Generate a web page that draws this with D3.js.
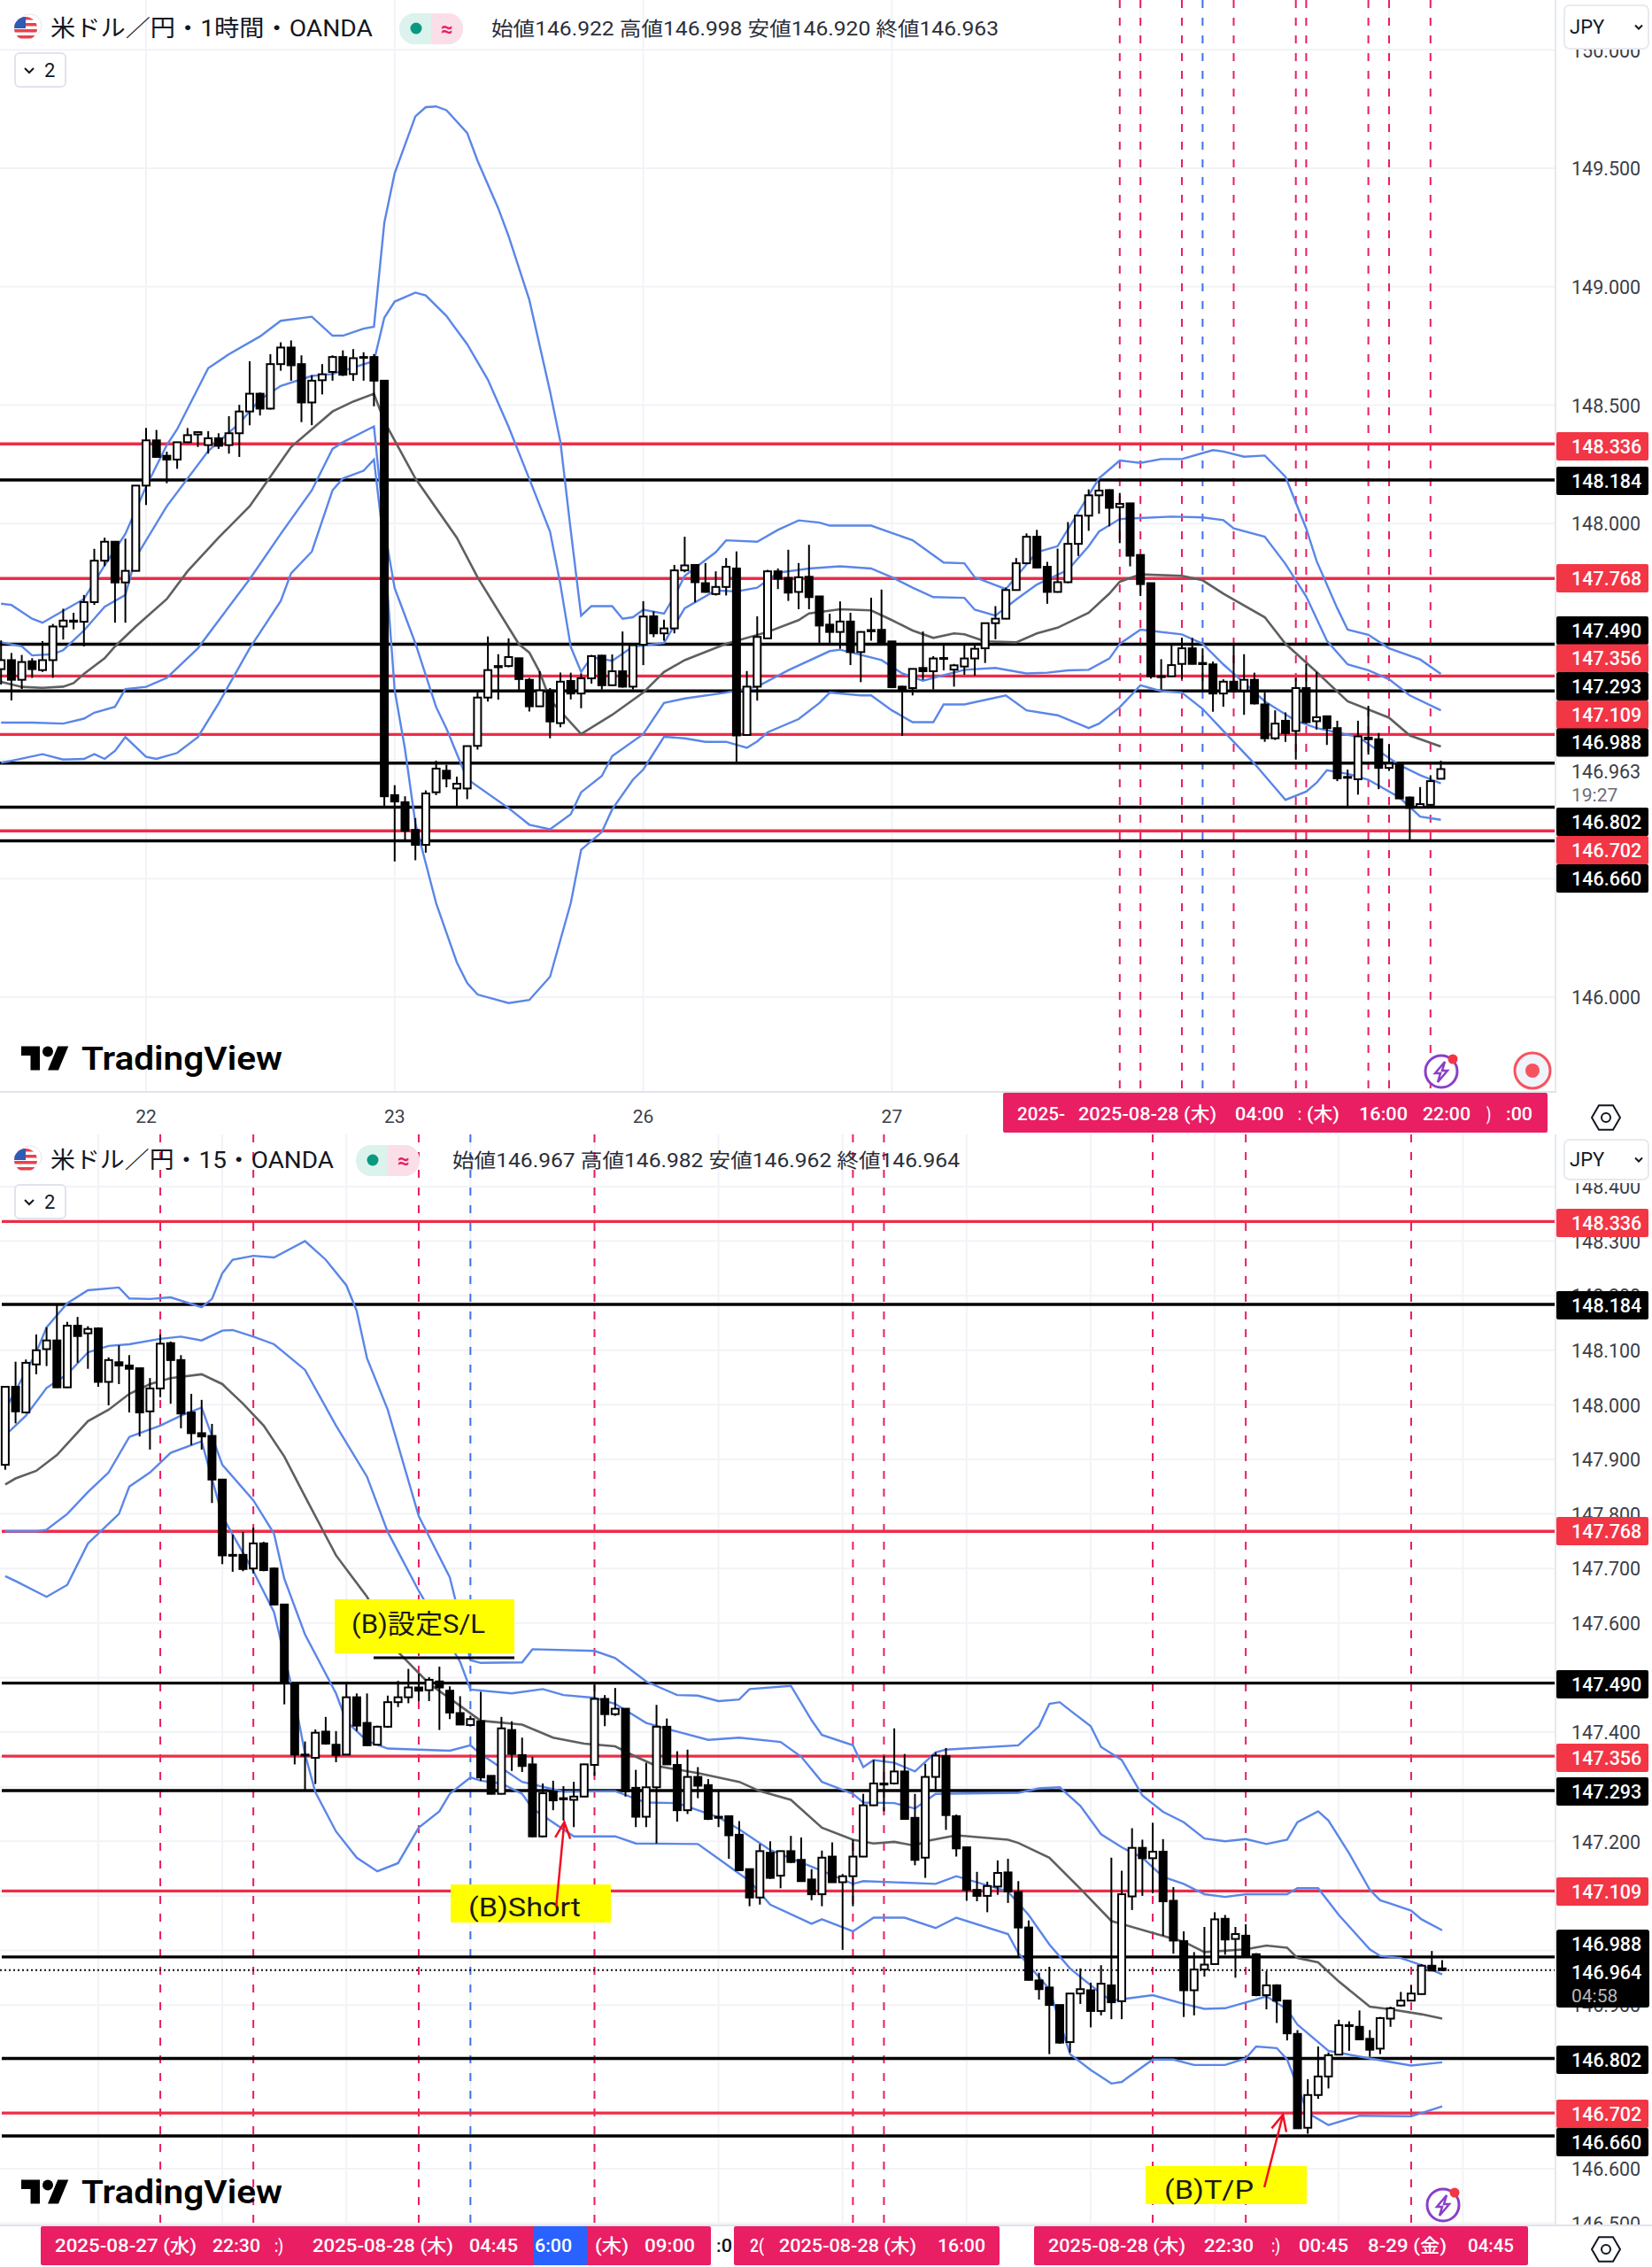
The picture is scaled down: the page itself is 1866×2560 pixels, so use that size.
<!DOCTYPE html>
<html><head><meta charset="utf-8">
<script src="https://cdn.jsdelivr.net/npm/d3@7/dist/d3.min.js"></script>
<style>html,body{margin:0;padding:0;background:#fff}svg{display:block}text{font-family:Roboto,"Noto Sans CJK JP",sans-serif}</style>
</head><body><svg id="c" width="1866" height="2560"></svg>
<script>
// ---------- shared price levels ----------
const levelValues=[148.336,148.184,147.768,147.490,147.356,147.293,147.109,146.988,146.802,146.702,146.660];
const levelKinds=["r","b","r","b","r","b","r","b","b","r","b"];
// ---------- 1 hour chart ----------
const hourOpen=[147.385,147.423,147.340,147.418,147.381,147.423,147.565,147.590,147.585,147.668,147.843,147.923,147.751,147.800,148.160,148.351,148.286,148.270,148.343,148.376,148.331,148.360,148.331,148.381,148.473,148.548,148.485,148.673,148.743,148.673,148.511,148.605,148.640,148.703,148.631,148.700,148.703,148.603,146.853,146.823,146.706,146.643,146.865,146.956,146.881,146.881,147.061,147.265,147.398,147.398,147.431,147.340,147.228,147.295,147.157,147.335,147.282,147.346,147.442,147.317,147.376,147.311,147.488,147.608,147.536,147.557,147.802,147.825,147.748,147.702,147.732,147.810,147.107,147.311,147.515,147.798,147.770,147.711,147.775,147.692,147.573,147.542,147.586,147.457,147.550,147.551,147.502,147.311,147.305,147.390,147.376,147.432,147.383,147.396,147.430,147.473,147.579,147.598,147.719,147.832,147.944,147.817,147.711,147.752,147.914,148.033,148.119,148.141,148.069,148.085,147.867,147.748,147.355,147.355,147.407,147.473,147.411,147.405,147.282,147.332,147.295,147.340,147.236,147.093,147.167,147.124,147.305,147.165,147.186,147.136,146.930,146.920,147.096,147.089,146.968,146.986,146.843,146.803,146.812,146.922];
const hourHigh=[147.506,147.453,147.445,147.431,147.503,147.576,147.640,147.623,147.698,147.893,147.940,147.926,147.936,148.160,148.403,148.395,148.303,148.343,148.403,148.386,148.390,148.381,148.453,148.501,148.685,148.553,148.715,148.765,148.773,148.710,148.626,148.673,148.710,148.731,148.736,148.723,148.715,148.603,146.895,146.848,146.756,146.873,146.998,146.981,146.931,147.060,147.286,147.523,147.448,147.515,147.431,147.348,147.376,147.305,147.370,147.370,147.367,147.445,147.445,147.447,147.544,147.486,147.672,147.629,147.594,147.825,147.944,147.825,147.833,147.798,147.854,147.882,147.377,147.608,147.804,147.810,147.889,147.833,147.910,147.694,147.619,147.671,147.623,147.545,147.686,147.721,147.502,147.315,147.386,147.544,147.440,147.486,147.407,147.486,147.490,147.579,147.651,147.729,147.854,147.958,147.973,147.838,147.894,148.006,148.035,148.144,148.181,148.144,148.129,148.085,147.867,147.748,147.427,147.486,147.517,147.517,147.473,147.417,147.342,147.492,147.448,147.370,147.286,147.211,147.202,147.348,147.407,147.373,147.186,147.167,146.961,147.167,147.230,147.115,147.068,146.986,146.847,146.887,146.937,146.998];
const hourLow=[147.320,147.253,147.301,147.348,147.373,147.348,147.510,147.553,147.481,147.656,147.820,147.581,147.581,147.798,148.078,148.278,148.170,148.231,148.340,148.323,148.295,148.315,148.295,148.281,148.415,148.456,148.481,148.645,148.603,148.428,148.415,148.545,148.603,148.623,148.603,148.603,148.495,146.806,146.573,146.665,146.578,146.610,146.853,146.886,146.806,146.836,147.045,147.248,147.256,147.393,147.298,147.206,147.226,147.093,147.140,147.257,147.220,147.324,147.299,147.315,147.307,147.299,147.402,147.520,147.505,147.536,147.794,147.667,147.708,147.696,147.696,146.990,147.105,147.252,147.512,147.723,147.673,147.638,147.638,147.492,147.492,147.471,147.402,147.330,147.505,147.490,147.305,147.103,147.274,147.340,147.299,147.380,147.311,147.361,147.357,147.411,147.511,147.596,147.717,147.829,147.810,147.661,147.708,147.748,147.863,147.969,148.041,147.988,147.917,147.819,147.694,147.345,147.299,147.352,147.342,147.405,147.292,147.205,147.226,147.286,147.192,147.236,147.078,147.086,147.078,147.003,147.155,147.130,147.065,146.912,146.799,146.855,147.024,146.878,146.955,146.837,146.662,146.800,146.803,146.920];
const hourClose=[147.423,147.340,147.415,147.385,147.423,147.565,147.590,147.585,147.668,147.843,147.923,147.751,147.800,148.160,148.351,148.281,148.270,148.343,148.373,148.386,148.360,148.328,148.381,148.473,148.548,148.485,148.673,148.743,148.668,148.511,148.603,148.630,148.703,148.628,148.698,148.703,148.603,146.848,146.826,146.703,146.643,146.860,146.965,146.923,146.901,147.060,147.265,147.381,147.393,147.436,147.343,147.228,147.295,147.164,147.332,147.282,147.346,147.440,147.317,147.376,147.311,147.486,147.607,147.536,147.557,147.802,147.823,147.752,147.711,147.732,147.817,147.105,147.311,147.521,147.798,147.767,147.708,147.773,147.689,147.569,147.542,147.586,147.457,147.542,147.545,147.492,147.309,147.299,147.386,147.376,147.430,147.428,147.401,147.430,147.471,147.579,147.598,147.719,147.832,147.944,147.814,147.711,147.752,147.914,148.033,148.119,148.139,148.066,148.083,147.864,147.744,147.355,147.352,147.402,147.473,147.407,147.406,147.282,147.332,147.292,147.340,147.240,147.093,147.155,147.115,147.305,147.161,147.182,147.136,146.924,146.926,147.101,147.089,146.968,146.986,146.839,146.799,146.815,146.912,146.963];
// band points are [bar number, price]
const hourUpper2=[[0,147.661],[1,147.656],[3,147.598],[4,147.581],[6,147.631],[8,147.681],[10,147.823],[12,147.956],[14,148.156],[16,148.331],[17,148.398],[20,148.656],[22,148.715],[25,148.79],[27,148.856],[30,148.873],[32,148.793],[33,148.793],[35,148.823],[36,148.831],[37,149.27],[38,149.479],[40,149.719],[41,149.758],[42,149.761],[43,149.745],[45,149.649],[46,149.532],[48,149.331],[49,149.213],[51,148.944],[53,148.558],[54,148.345],[55,147.97],[56,147.611],[57,147.651],[59,147.651],[60,147.598],[61,147.604],[62,147.636],[64,147.619],[65,147.692],[66,147.779],[69,147.879],[70,147.929],[73,147.923],[75,147.973],[77,148.013],[79,148.004],[80,147.991],[84,147.991],[86,147.96],[88,147.929],[91,147.835],[93,147.832],[94,147.773],[97,147.723],[100,147.879],[102,147.904],[106,148.191],[108,148.266],[110,148.256],[112,148.272],[114,148.272],[117,148.31],[118,148.304],[120,148.282],[122,148.287],[124,148.197],[126,147.979],[127,147.842],[129,147.642],[130,147.552],[132,147.53],[134,147.473],[137,147.426],[139,147.365]];
const hourUpper1=[[0,147.498],[2,147.481],[3,147.443],[5,147.448],[6,147.465],[8,147.548],[10,147.648],[12,147.698],[13,147.856],[16,148.073],[20,148.306],[23,148.423],[25,148.523],[27,148.581],[30,148.623],[32,148.631],[36,148.686],[37,148.869],[38,148.937],[40,148.975],[41,148.963],[43,148.876],[45,148.757],[47,148.607],[49,148.408],[51,148.188],[53,147.966],[54,147.742],[55,147.479],[56,147.373],[57,147.436],[59,147.42],[61,147.48],[64,147.495],[66,147.642],[69,147.717],[71,147.713],[73,147.729],[75,147.792],[78,147.81],[81,147.819],[84,147.81],[86,147.773],[88,147.729],[90,147.689],[93,147.686],[94,147.636],[96,147.611],[98,147.679],[100,147.742],[103,147.804],[105,147.904],[106,147.966],[108,148.019],[110,148.023],[113,148.029],[116,148.026],[118,148.014],[119,147.979],[122,147.944],[124,147.829],[126,147.692],[128,147.505],[130,147.405],[132,147.38],[134,147.342],[136,147.274],[139,147.211]];
const hourMiddle=[[0,147.331],[2,147.31],[4,147.306],[6,147.311],[7,147.326],[8,147.365],[10,147.431],[11,147.481],[13,147.565],[16,147.681],[18,147.798],[21,147.94],[24,148.073],[26,148.198],[28,148.323],[30,148.398],[32,148.473],[34,148.515],[36,148.548],[37,148.431],[40,148.19],[44,147.94],[46,147.773],[50,147.49],[51,147.455],[52,147.373],[53,147.255],[56,147.111],[59,147.192],[62,147.286],[64,147.373],[66,147.423],[70,147.492],[74,147.542],[77,147.592],[78,147.62],[81,147.638],[84,147.633],[86,147.592],[88,147.548],[90,147.517],[92,147.536],[93,147.532],[95,147.502],[98,147.498],[100,147.536],[102,147.56],[105,147.623],[107,147.704],[108,147.754],[110,147.785],[114,147.779],[116,147.76],[118,147.704],[122,147.604],[124,147.492],[127,147.373],[130,147.249],[134,147.18],[136,147.105],[139,147.058]];
const hourLower1=[[0,147.159],[3,147.159],[6,147.155],[8,147.176],[9,147.201],[11,147.226],[12,147.301],[14,147.31],[16,147.348],[19,147.473],[21,147.59],[24,147.765],[27,147.956],[30,148.14],[32,148.315],[33,148.343],[36,148.41],[37,147.978],[38,147.727],[40,147.494],[42,147.225],[43,147.134],[45,146.921],[49,146.798],[51,146.728],[53,146.709],[55,146.772],[56,146.865],[58,146.934],[59,147.018],[62,147.111],[64,147.242],[66,147.261],[70,147.286],[73,147.311],[76,147.38],[80,147.461],[81,147.467],[85,147.423],[87,147.367],[89,147.336],[90,147.348],[93,147.382],[96,147.39],[99,147.367],[101,147.37],[103,147.38],[105,147.382],[107,147.43],[108,147.492],[110,147.552],[114,147.532],[116,147.492],[118,147.405],[122,147.249],[125,147.167],[127,147.136],[131,147.099],[135,146.98],[137,146.937],[139,146.903]];
const hourLower2=[[0,146.99],[1,146.998],[4,147.026],[6,147.003],[8,147.006],[9,147.026],[10,147.006],[11,147.04],[12,147.098],[14,147.015],[15,147.006],[17,147.031],[19,147.098],[21,147.24],[24,147.473],[27,147.673],[28,147.79],[30,147.881],[32,148.14],[33,148.19],[35,148.223],[36,148.27],[37,147.895],[38,147.296],[39,147.046],[40,146.734],[42,146.397],[44,146.147],[45,146.06],[46,146.011],[49,145.975],[51,145.988],[53,146.086],[55,146.397],[56,146.622],[58,146.697],[59,146.793],[61,146.918],[62,146.961],[64,147.099],[66,147.093],[68,147.078],[70,147.078],[72,147.053],[73,147.08],[74,147.118],[77,147.174],[79,147.242],[80,147.286],[83,147.274],[84,147.274],[86,147.211],[88,147.161],[90,147.161],[91,147.236],[93,147.236],[97,147.274],[99,147.211],[102,147.19],[105,147.136],[106,147.155],[108,147.224],[110,147.317],[112,147.292],[114,147.286],[116,147.217],[118,147.124],[121,146.986],[124,146.833],[126,146.868],[127,146.905],[128,146.958],[130,146.943],[132,146.918],[135,146.843],[137,146.762],[139,146.749]];
const hourMarkerBars=[108,110,114,116,119,125,126,132,134,138];
const hourBlueMarkers=[116];
const hourTickValues=[146,146.5,147,147.5,148,148.5,149,149.5,150];
const hourTickLabels=[146,148,148.5,149,149.5,150];
const hourDayBars=[14,38,62,86];
const hourDayLabels=["22","23","26","27"];
// ---------- 15 minute chart ----------
const minOpen=[147.890,148.033,147.986,148.074,148.102,148.118,148.032,148.145,148.131,148.140,148.042,148.078,148.072,148.067,147.988,148.030,148.113,148.082,147.986,147.948,147.943,147.863,147.725,147.725,147.700,147.746,147.700,147.634,147.489,147.359,147.353,147.401,147.377,147.359,147.464,147.417,147.377,147.410,147.455,147.464,147.482,147.477,147.493,147.476,147.435,147.413,147.420,147.320,147.287,147.404,147.358,147.341,147.209,147.291,147.279,147.276,147.282,147.340,147.461,147.433,147.443,147.298,147.245,147.299,147.410,147.340,147.257,147.318,147.303,147.245,147.246,147.212,147.149,147.097,147.179,147.137,147.182,147.166,147.130,147.103,147.172,147.125,147.136,147.172,147.266,147.306,147.306,147.328,147.243,147.170,147.318,147.356,147.246,147.189,147.111,147.100,147.117,147.143,147.107,147.042,146.945,146.932,146.900,146.832,146.921,146.927,146.889,146.936,146.907,147.099,147.188,147.169,147.181,147.091,147.017,146.927,146.965,146.975,147.058,147.021,147.027,146.993,146.918,146.936,146.908,146.847,146.675,146.735,146.769,146.809,146.863,146.860,146.838,146.820,146.875,146.899,146.908,146.920,146.972,146.967];
const minHigh=[148.033,148.079,148.083,148.129,148.142,148.183,148.152,148.161,148.144,148.142,148.087,148.109,148.091,148.067,148.049,148.129,148.116,148.091,148.020,148.009,147.965,147.863,147.762,147.767,147.775,147.749,147.702,147.634,147.491,147.383,147.405,147.428,147.402,147.489,147.471,147.471,147.412,147.467,147.494,147.516,147.507,147.501,147.520,147.484,147.466,147.430,147.474,147.320,147.428,147.420,147.390,147.355,147.306,147.311,147.301,147.309,147.342,147.487,147.468,147.481,147.443,147.331,147.344,147.450,147.425,147.365,147.368,147.336,147.314,147.292,147.246,147.237,147.149,147.195,147.200,147.183,147.210,147.207,147.149,147.183,147.198,147.140,147.203,147.287,147.349,147.357,147.407,147.360,147.287,147.342,147.363,147.371,147.249,147.189,147.144,147.126,147.165,147.168,147.127,147.055,146.959,146.970,146.900,146.921,146.967,146.941,146.973,147.170,147.146,147.224,147.203,147.234,147.204,147.116,147.035,146.997,147.043,147.070,147.065,147.043,147.048,146.995,146.962,146.938,146.909,146.854,146.764,146.824,146.813,146.873,146.870,146.890,146.854,146.878,146.897,146.924,146.936,146.975,146.999,146.982];
const minLow=[147.881,147.966,147.984,148.056,148.071,148.031,148.031,148.077,148.066,148.033,147.999,148.038,147.986,147.942,147.918,148.014,148.002,147.957,147.926,147.918,147.820,147.708,147.694,147.695,147.691,147.695,147.632,147.451,147.341,147.294,147.305,147.377,147.345,147.358,147.402,147.375,147.376,147.408,147.446,147.453,147.457,147.457,147.404,147.424,147.413,147.412,147.311,147.286,147.286,147.329,147.327,147.207,147.207,147.257,147.238,147.226,147.281,147.320,147.411,147.430,147.282,147.226,147.226,147.196,147.340,147.236,147.250,147.279,147.239,147.226,147.168,147.146,147.081,147.084,147.131,147.114,147.160,147.126,147.092,147.081,147.124,147.001,147.081,147.171,147.265,147.255,147.304,147.240,147.156,147.133,147.292,147.221,147.172,147.091,147.090,147.070,147.102,147.087,146.990,146.945,146.910,146.810,146.829,146.813,146.902,146.859,146.881,146.874,146.874,147.074,147.100,147.105,147.027,146.994,146.878,146.881,146.952,146.974,146.992,146.950,146.988,146.916,146.892,146.867,146.835,146.673,146.664,146.728,146.747,146.808,146.816,146.836,146.805,146.810,146.860,146.897,146.907,146.919,146.962,146.962];
const minClose=[148.033,147.988,148.077,148.100,148.118,148.032,148.145,148.126,148.139,148.042,148.082,148.072,148.066,147.986,148.030,148.112,148.082,147.984,147.948,147.942,147.863,147.724,147.724,147.699,147.746,147.697,147.634,147.491,147.359,147.357,147.399,147.379,147.358,147.464,147.412,147.376,147.410,147.455,147.464,147.482,147.476,147.496,147.482,147.436,147.414,147.424,147.317,147.287,147.407,147.360,147.338,147.209,147.288,147.275,147.277,147.282,147.341,147.461,147.433,147.443,147.292,147.245,147.299,147.410,147.341,147.257,147.318,147.302,147.241,147.243,147.211,147.147,147.097,147.182,147.133,147.182,147.162,147.127,147.103,147.170,147.125,147.136,147.172,147.266,147.306,147.304,147.328,147.241,147.166,147.318,147.357,147.248,147.187,147.111,147.100,147.118,147.142,147.108,147.042,146.946,146.929,146.900,146.831,146.921,146.929,146.889,146.939,146.905,147.103,147.188,147.169,147.181,147.090,147.018,146.927,146.965,146.974,147.057,147.020,147.030,146.989,146.918,146.936,146.908,146.848,146.674,146.735,146.769,146.808,146.863,146.862,146.837,146.818,146.876,146.894,146.908,146.921,146.972,146.963,146.964];
const minUpper2=[[0,147.991],[3,148.096],[4,148.142],[6,148.186],[8,148.21],[11,148.215],[12,148.195],[14,148.194],[16,148.197],[19,148.179],[20,148.194],[21,148.241],[22,148.266],[24,148.273],[26,148.27],[29,148.3],[31,148.266],[33,148.219],[34,148.172],[35,148.085],[37,147.991],[40,147.796],[43,147.684],[45,147.532],[46,147.527],[50,147.528],[51,147.552],[57,147.549],[59,147.536],[62,147.493],[65,147.468],[67,147.467],[69,147.457],[71,147.46],[72,147.479],[76,147.485],[78,147.422],[79,147.395],[82,147.376],[83,147.336],[84,147.349],[86,147.344],[88,147.328],[90,147.363],[91,147.368],[98,147.376],[100,147.411],[101,147.452],[102,147.455],[103,147.44],[105,147.411],[106,147.373],[108,147.349],[110,147.284],[112,147.254],[114,147.235],[116,147.205],[118,147.2],[120,147.204],[122,147.195],[124,147.203],[125,147.235],[127,147.255],[128,147.238],[130,147.178],[132,147.111],[133,147.092],[134,147.086],[136,147.073],[137,147.057],[139,147.037]];
const minUpper1=[[0,147.944],[2,147.98],[4,148.031],[6,148.056],[8,148.096],[10,148.108],[12,148.111],[15,148.121],[17,148.125],[19,148.118],[21,148.136],[22,148.137],[24,148.125],[26,148.111],[29,148.064],[32,147.962],[35,147.868],[37,147.767],[40,147.659],[44,147.529],[45,147.478],[49,147.471],[52,147.479],[54,147.468],[57,147.463],[59,147.452],[62,147.417],[65,147.401],[68,147.386],[71,147.39],[75,147.382],[77,147.355],[79,147.309],[82,147.287],[83,147.271],[86,147.27],[88,147.26],[90,147.287],[98,147.289],[100,147.297],[102,147.299],[104,147.265],[106,147.213],[108,147.189],[110,147.17],[112,147.135],[114,147.122],[116,147.103],[118,147.098],[120,147.103],[124,147.103],[125,147.114],[127,147.114],[129,147.065],[132,147.002],[133,146.99],[135,146.986],[137,146.973],[139,146.956]];
const minMiddle=[[0,147.854],[1,147.865],[3,147.879],[5,147.908],[8,147.97],[10,147.991],[12,148.02],[14,148.038],[16,148.049],[19,148.056],[21,148.038],[23,148.002],[25,147.962],[27,147.905],[29,147.832],[31,147.76],[32,147.724],[35,147.648],[38,147.547],[41,147.489],[46,147.421],[50,147.414],[53,147.39],[56,147.379],[59,147.374],[61,147.355],[63,147.338],[67,147.325],[71,147.309],[73,147.292],[76,147.276],[79,147.225],[82,147.203],[84,147.196],[86,147.199],[88,147.192],[89,147.2],[92,147.211],[97,147.203],[98,147.197],[101,147.17],[104,147.113],[107,147.054],[111,147.032],[114,147.016],[116,146.997],[120,147.002],[122,147.009],[124,147.005],[125,146.986],[127,146.978],[129,146.943],[132,146.897],[134,146.892],[137,146.883],[139,146.875]];
const minLower1=[[0,147.768],[3,147.768],[4,147.771],[6,147.8],[8,147.84],[10,147.876],[12,147.941],[13,147.948],[15,147.962],[17,147.98],[19,147.995],[21,147.89],[24,147.825],[26,147.764],[27,147.681],[29,147.579],[32,147.471],[33,147.42],[35,147.384],[37,147.37],[43,147.366],[45,147.376],[46,147.36],[50,147.309],[54,147.291],[59,147.292],[62,147.271],[65,147.27],[67,147.257],[69,147.244],[71,147.222],[74,147.184],[79,147.146],[82,147.122],[83,147.127],[90,147.122],[92,147.136],[97,147.108],[99,147.065],[101,147.011],[103,146.967],[106,146.921],[107,146.908],[111,146.918],[114,146.902],[116,146.893],[118,146.894],[121,146.91],[122,146.916],[124,146.892],[125,146.864],[128,146.816],[132,146.802],[136,146.789],[139,146.795]];
const minLower2=[[0,147.686],[1,147.677],[4,147.648],[6,147.67],[8,147.746],[11,147.8],[12,147.85],[14,147.876],[16,147.912],[19,147.933],[21,147.796],[24,147.695],[26,147.62],[28,147.46],[29,147.36],[30,147.29],[32,147.218],[34,147.17],[36,147.145],[38,147.16],[40,147.225],[42,147.255],[43,147.287],[45,147.317],[46,147.311],[48,147.306],[50,147.287],[51,147.26],[55,147.209],[59,147.209],[61,147.196],[67,147.195],[69,147.168],[72,147.127],[74,147.084],[78,147.049],[79,147.057],[82,147.035],[84,147.06],[87,147.06],[90,147.041],[92,147.06],[97,147.03],[98,146.995],[101,146.929],[103,146.81],[105,146.781],[107,146.756],[108,146.759],[111,146.8],[113,146.8],[115,146.79],[118,146.79],[120,146.802],[121,146.824],[123,146.821],[124,146.8],[126,146.702],[128,146.68],[131,146.697],[136,146.696],[139,146.714]];
const minMarkerBars=[15,24,40,45,57,82,85,111,120,136];
const minBlueMarkers=[45];
const minTickValues=[146.5,146.6,146.7,146.8,146.9,147,147.1,147.2,147.3,147.4,147.5,147.6,147.7,147.8,147.9,148,148.1,148.2,148.3,148.4];
const minTickLabels=[146.5,146.6,146.9,147.2,147.4,147.6,147.7,147.8,147.9,148,148.1,148.2,148.3,148.4];

const svg=d3.select("#c");
const defs=svg.append("defs");
const RED="#ee2c48",PINK="#e91e63",BLUE="#2962ff",BAND="#5b86e8",MIDC="#5f5f5f";
const GRID="#f1f3f7",TXT="#3b3e48";

function fitText(g,x,y,str,width,opt={}){
  const t=g.append("text").attr("x",x).attr("y",y).attr("dominant-baseline","central").text(str)
    .attr("fill",opt.fill||"#131722").attr("font-size",opt.size||21).attr("font-weight",opt.weight||400);
  if(width){t.attr("textLength",width).attr("lengthAdjust","spacingAndGlyphs");}
  if(opt.anchor)t.attr("text-anchor",opt.anchor);
  return t;
}

function panel(cfg){
  const g=svg.append("g");
  const id=cfg.id;
  defs.append("clipPath").attr("id",id).append("rect").attr("x",0).attr("y",cfg.top).attr("width",cfg.axisX).attr("height",cfg.bottom-cfg.top);
  const x=d3.scaleLinear().domain([0,139]).range(cfg.xRange);
  const y=d3.scaleLinear().domain(cfg.yDomain).range(cfg.yRange);
  const plot=g.append("g").attr("clip-path",`url(#${id})`);
  // grid
  plot.selectAll(".hg").data(cfg.ticks).join("line").attr("x1",0).attr("x2",cfg.axisX)
    .attr("y1",d=>y(d)).attr("y2",d=>y(d)).attr("stroke",GRID).attr("stroke-width",2);
  plot.selectAll(".vg").data(cfg.gridBars).join("line").attr("y1",cfg.top).attr("y2",cfg.bottom)
    .attr("x1",d=>x(d)).attr("x2",d=>x(d)).attr("stroke",GRID).attr("stroke-width",2);
  // markers
  plot.selectAll(".mk").data(cfg.markers).join("line").attr("y1",cfg.top).attr("y2",cfg.bottom)
    .attr("x1",d=>x(d)).attr("x2",d=>x(d))
    .attr("stroke",d=>cfg.blue.includes(d)?"#3f72e8":PINK).attr("stroke-width",2).attr("stroke-dasharray","9 11");
  // levels
  plot.selectAll(".lv").data(levelValues.map((v,i)=>({v,k:levelKinds[i]})))
    .join("line").attr("x1",cfg.lineX).attr("x2",cfg.axisX).attr("y1",d=>y(d.v)).attr("y2",d=>y(d.v))
    .attr("stroke",d=>d.k==="r"?RED:"#000").attr("stroke-width",3.4);
  if(cfg.lastLine!=null){
    plot.append("line").attr("x1",0).attr("x2",cfg.axisX).attr("y1",y(cfg.lastLine)).attr("y2",y(cfg.lastLine))
      .attr("stroke","#111").attr("stroke-width",2).attr("stroke-dasharray","2 3");
  }
  // bands
  const line=d3.line().x(d=>x(d[0])).y(d=>y(d[1]));
  cfg.bands.forEach(b=>plot.append("path").attr("d",line(b)).attr("fill","none").attr("stroke",BAND).attr("stroke-width",2.4));
  plot.append("path").attr("d",line(cfg.middle)).attr("fill","none").attr("stroke",MIDC).attr("stroke-width",2.6);
  // candles
  const idx=d3.range(cfg.open.length);
  plot.selectAll(".wk").data(idx).join("line").attr("x1",i=>x(i)).attr("x2",i=>x(i))
    .attr("y1",i=>y(cfg.high[i])).attr("y2",i=>y(cfg.low[i])).attr("stroke","#000").attr("stroke-width",2);
  plot.selectAll(".bd").data(idx).join("rect")
    .attr("x",i=>x(i)-4).attr("width",8)
    .attr("y",i=>y(Math.max(cfg.open[i],cfg.close[i])))
    .attr("height",i=>Math.max(1,Math.abs(y(cfg.open[i])-y(cfg.close[i]))))
    .attr("fill",i=>cfg.close[i]>=cfg.open[i]?"#fff":"#000").attr("stroke","#000").attr("stroke-width",2);
  // axis column
  g.append("line").attr("x1",cfg.axisX).attr("x2",cfg.axisX).attr("y1",cfg.top).attr("y2",cfg.bottom).attr("stroke","#e6e8ee").attr("stroke-width",2);
  const ax=g.append("g").attr("transform",`translate(${cfg.tickX},0)`)
    .call(d3.axisRight(y).tickValues(cfg.tickLabels).tickFormat(d3.format(".3f")).tickSize(0).tickPadding(0));
  ax.select(".domain").remove();
  ax.selectAll("text").attr("fill",TXT).attr("font-size",21.5).attr("font-family",'Roboto,"Noto Sans CJK JP",sans-serif').attr("dy","0.36em");
  // cover axis text above and below the chart
  g.append("rect").attr("x",cfg.axisX+1).attr("y",cfg.bottom).attr("width",1866-cfg.axisX).attr("height",48).attr("fill","#fff");
  g.append("rect").attr("x",cfg.axisX+1).attr("y",cfg.top-50).attr("width",1866-cfg.axisX).attr("height",cfg.jpyBottom-cfg.top+50).attr("fill","#fff");
  g.append("line").attr("x1",0).attr("x2",1866).attr("y1",cfg.bottom+1).attr("y2",cfg.bottom+1).attr("stroke","#e0e3eb").attr("stroke-width",2);
  // labels
  cfg.labels.forEach(l=>{
    const col=levelKinds[levelValues.indexOf(l.v)]==="r"?"#f23645":"#000";
    g.append("rect").attr("x",cfg.axisX+1).attr("y",l.y-16).attr("width",104).attr("height",32).attr("rx",2).attr("fill",col);
    g.append("text").attr("x",cfg.tickX).attr("y",l.y).attr("dy","0.36em").attr("fill","#fff").attr("font-size",21.5).attr("font-weight",500).text(d3.format(".3f")(l.v));
  });
  return {g,plot,x,y};
}

const topPanel=panel({id:"cp1",top:0,bottom:1232,axisX:1757,lineX:0,tickX:1775,jpyBottom:56,xRange:[1.2,1627.5],yDomain:[146,149.5],yRange:[1126,190],
  ticks:hourTickValues,tickLabels:hourTickLabels,gridBars:[14,38,62,86,110,134],markers:hourMarkerBars,blue:hourBlueMarkers,
  open:hourOpen,high:hourHigh,low:hourLow,close:hourClose,bands:[hourUpper2,hourUpper1,hourLower1,hourLower2],middle:hourMiddle,
  labels:[{v:148.336,y:504},{v:148.184,y:543},{v:147.768,y:653},{v:147.49,y:712},{v:147.356,y:743.5},{v:147.293,y:775},{v:147.109,y:807},{v:146.988,y:838.5},{v:146.802,y:928},{v:146.702,y:960},{v:146.66,y:992}]});

const botPanel=panel({id:"cp2",top:1281,bottom:2512,axisX:1757,lineX:2,tickX:1775,jpyBottom:1336,xRange:[5.9,1629],yDomain:[146.66,148.184],yRange:[2412,1473],lastLine:146.964,
  ticks:minTickValues,tickLabels:minTickLabels,gridBars:[9,21,33,45,57,69,81,93,105,117,129,141],markers:minMarkerBars,blue:minBlueMarkers,
  open:minOpen,high:minHigh,low:minLow,close:minClose,bands:[minUpper2,minUpper1,minLower1,minLower2],middle:minMiddle,
  labels:[{v:148.336,y:1381},{v:148.184,y:1474},{v:147.768,y:1729},{v:147.49,y:1902},{v:147.356,y:1985},{v:147.293,y:2023},{v:147.109,y:2136},{v:146.802,y:2326},{v:146.702,y:2387},{v:146.66,y:2419}]});

// price countdown readouts
const g0=svg.append("g");
g0.append("text").attr("x",1775).attr("y",871).attr("dy","0.36em").attr("fill",TXT).attr("font-size",21.5).text("146.963");
g0.append("text").attr("x",1775).attr("y",897).attr("dy","0.36em").attr("fill","#6a6d78").attr("font-size",21).text("19:27");
g0.append("rect").attr("x",1758).attr("y",2179).attr("width",105).attr("height",88).attr("rx",3).attr("fill","#000");
g0.append("text").attr("x",1775).attr("y",2195).attr("dy","0.36em").attr("fill","#fff").attr("font-size",21.5).attr("font-weight",500).text("146.988");
g0.append("text").attr("x",1775).attr("y",2227).attr("dy","0.36em").attr("fill","#fff").attr("font-size",21.5).attr("font-weight",500).text("146.964");
g0.append("text").attr("x",1775).attr("y",2253).attr("dy","0.36em").attr("fill","#b8b8b8").attr("font-size",21).text("04:58");

// time axis
hourDayBars.forEach((b,i)=>{
  g0.append("text").attr("x",topPanel.x(b)).attr("y",1260).attr("dy","0.36em").attr("text-anchor","middle").attr("fill",TXT).attr("font-size",21).text(hourDayLabels[i]);
});
function pinkBox(x0,x1,y0,y1,fill){g0.append("rect").attr("x",x0).attr("y",y0).attr("width",x1-x0).attr("height",y1-y0).attr("rx",2).attr("fill",fill||PINK);}
function axisText(x0,w,y,s,fill){fitText(g0,x0,y,s,w,{fill:fill||"#fff",size:21,weight:500});}
pinkBox(1133,1748,1234,1279);
[[1149,54,"2025-"],[1218,156,"2025-08-28 (木)"],[1395,55,"04:00"],[1466,4,":"],[1476,37,"(木)"],[1535,55,"16:00"],[1607,54,"22:00"],[1679,5,")"],[1701,30,":00"]]
  .forEach(d=>axisText(d[0],d[1],1258,d[2]));
pinkBox(46,803,2514,2558);pinkBox(829,1129,2514,2558);pinkBox(1168,1726,2514,2558);pinkBox(603,663,2514,2558,BLUE);
[[62,160,"2025-08-27 (水)"],[240,54,"22:30"],[310,10,":)"],[353,159,"2025-08-28 (木)"],[530,55,"04:45"],[604,42,"6:00"],[672,38,"(木)"],[728,57,"09:00"],[847,16,"2("],[880,155,"2025-08-28 (木)"],[1059,54,"16:00"],[1184,155,"2025-08-28 (木)"],[1360,56,"22:30"],[1436,10,":)"],[1467,56,"00:45"],[1545,89,"8-29 (金)"],[1658,52,"04:45"]]
  .forEach(d=>axisText(d[0],d[1],2536,d[2]));
axisText(809,18,2536,":0","#111");

// header bars
function header(y,title,tw,pillX,ohlc,ox,ow){
  const h=svg.append("g");
  h.append("circle").attr("cx",34).attr("cy",y-3).attr("r",13).attr("fill","#fff").attr("stroke","#e4e6ee");
  const id="fl"+y;
  defs.append("clipPath").attr("id",id).append("circle").attr("cx",29).attr("cy",y).attr("r",13);
  const f=h.append("g").attr("clip-path",`url(#${id})`);
  f.append("rect").attr("x",16).attr("y",y-13).attr("width",26).attr("height",26).attr("fill","#fff");
  d3.range(4).forEach(i=>f.append("rect").attr("x",16).attr("y",y-13+i*7).attr("width",26).attr("height",3.5).attr("fill","#e8414f"));
  f.append("rect").attr("x",16).attr("y",y-13).attr("width",13).attr("height",13).attr("fill","#2f5bb5");
  fitText(h,57,y,title,tw,{size:26,fill:"#131722"});
  h.append("rect").attr("x",pillX).attr("y",y-17).attr("width",72).attr("height",35).attr("rx",17).attr("fill","#dcf2ed");
  h.append("path").attr("d",`M${pillX+36} ${y-17}h19a17 17.5 0 0 1 0 35h-19z`).attr("fill","#fbdfe8");
  h.append("circle").attr("cx",pillX+19).attr("cy",y).attr("r",6.5).attr("fill","#089981");
  h.append("text").attr("x",pillX+54).attr("y",y).attr("dy","0.36em").attr("text-anchor","middle").attr("fill",PINK).attr("font-size",24).attr("font-weight",700).text("≈");
  fitText(h,ox,y,ohlc,ow,{size:22,fill:"#2a2e39"});
  h.append("rect").attr("x",17).attr("y",y+28).attr("width",57).attr("height",38).attr("rx",5).attr("fill","#fff").attr("stroke","#e0e3eb").attr("stroke-width",2);
  h.append("path").attr("d",`M28 ${y+45}l5 5 5-5`).attr("fill","none").attr("stroke","#131722").attr("stroke-width",2);
  h.append("text").attr("x",50).attr("y",y+47).attr("dy","0.36em").attr("fill","#131722").attr("font-size",22).text("2");
}
header(32,"米ドル／円・1時間・OANDA",364,451,"始値146.922  高値146.998  安値146.920  終値146.963",555,573);
header(1310,"米ドル／円・15・OANDA",320,402,"始値146.967  高値146.982  安値146.962  終値146.964",511,573);
function jpy(y0,y1){
  g0.append("rect").attr("x",1767).attr("y",y0).attr("width",95).attr("height",y1-y0).attr("rx",6).attr("fill","#fff").attr("stroke","#e8eaf0").attr("stroke-width",2);
  g0.append("text").attr("x",1773).attr("y",(y0+y1)/2).attr("dy","0.36em").attr("fill","#131722").attr("font-size",22).text("JPY");
  g0.append("path").attr("d",`M1847 ${(y0+y1)/2-2}l4 4 4-4`).attr("fill","none").attr("stroke","#131722").attr("stroke-width",2);
}
jpy(6,55);jpy(1287,1332);
function gear(cy){
  const cx=1814;
  const pts=d3.range(6).map(i=>{const a=i*Math.PI/3;return[cx+16*Math.cos(a),cy+16*Math.sin(a)];});
  g0.append("polygon").attr("points",pts.map(p=>p.join(",")).join(" ")).attr("fill","none").attr("stroke","#131722").attr("stroke-width",2);
  g0.append("circle").attr("cx",cx).attr("cy",cy).attr("r",5).attr("fill","none").attr("stroke","#131722").attr("stroke-width",2);
}
gear(1262);gear(2540);

// logo
function logo(cy){
  const l=g0.append("g").attr("transform",`translate(24 ${cy-24}) scale(1.5)`);
  l.append("path").attr("d","M14 25H7V14H0V7h14v18zM28 25h-8l7.5-18h8L28 25z").attr("fill","#000");
  l.append("circle").attr("cx",20).attr("cy",11).attr("r",4).attr("fill","#000");
  g0.append("text").attr("x",92).attr("y",cy).attr("dy","0.36em").attr("fill","#000").attr("font-size",37).attr("font-weight",600)
    .attr("font-family","Inter,Roboto,sans-serif").attr("textLength",227).attr("lengthAdjust","spacingAndGlyphs").text("TradingView");
}
logo(1195);logo(2475);
// alert icon
function bolt(cx,cy){
  g0.append("circle").attr("cx",cx).attr("cy",cy).attr("r",18).attr("fill","#fff").attr("stroke","#8a3fc7").attr("stroke-width",3);
  g0.append("path").attr("d",`M${cx+4} ${cy-11}L${cx-7} ${cy+2}h6l-3 10l11-13h-6z`).attr("fill","none").attr("stroke","#8a3fc7").attr("stroke-width",2.5);
  g0.append("circle").attr("cx",cx+13).attr("cy",cy-14).attr("r",5.5).attr("fill","#f23645");
}
bolt(1628,1210);bolt(1630,2490);
g0.append("circle").attr("cx",1731).attr("cy",1209).attr("r",20).attr("fill","#f0f3fa").attr("stroke","#f7525f").attr("stroke-width",3);
g0.append("circle").attr("cx",1731).attr("cy",1209).attr("r",8).attr("fill","#f7525f");

// trade annotations (bar, price)
const arrows=[{from:[53.3,147.08],to:[54.08,147.235]},{from:[121.8,146.566],to:[123.6,146.699]}];
const ann=svg.append("g");
function yellow(x0,x1,y0,y1,s,tx,tw,cy,sz){
  ann.append("rect").attr("x",x0).attr("y",y0).attr("width",x1-x0).attr("height",y1-y0).attr("fill","#ffff00");
  fitText(ann,tx,cy,s,tw,{size:sz,fill:"#1a1a1a"});
}
yellow(378,581,1806,1867,"(B)設定S/L",397,151,1833,30);
ann.append("line").attr("x1",422).attr("x2",581).attr("y1",1872).attr("y2",1872).attr("stroke","#000").attr("stroke-width",3);
yellow(509,690,2128,2171,"(B)Short",529,127,2154,29);
yellow(1294,1476,2446,2489,"(B)T/P",1315,101,2473,29);
arrows.forEach(a=>{
  const x0=botPanel.x(a.from[0]),y0=botPanel.y(a.from[1]),x1=botPanel.x(a.to[0]),y1=botPanel.y(a.to[1]);
  const ang=Math.atan2(y1-y0,x1-x0),hl=20;
  ann.append("line").attr("x1",x0).attr("y1",y0).attr("x2",x1).attr("y2",y1).attr("stroke","#f01020").attr("stroke-width",2.5);
  ann.append("path").attr("d",`M${x1+hl*Math.cos(ang+2.7)} ${y1+hl*Math.sin(ang+2.7)}L${x1} ${y1}L${x1+hl*Math.cos(ang-2.7)} ${y1+hl*Math.sin(ang-2.7)}`)
    .attr("fill","none").attr("stroke","#f01020").attr("stroke-width",2.5);
});
</script></body></html>
